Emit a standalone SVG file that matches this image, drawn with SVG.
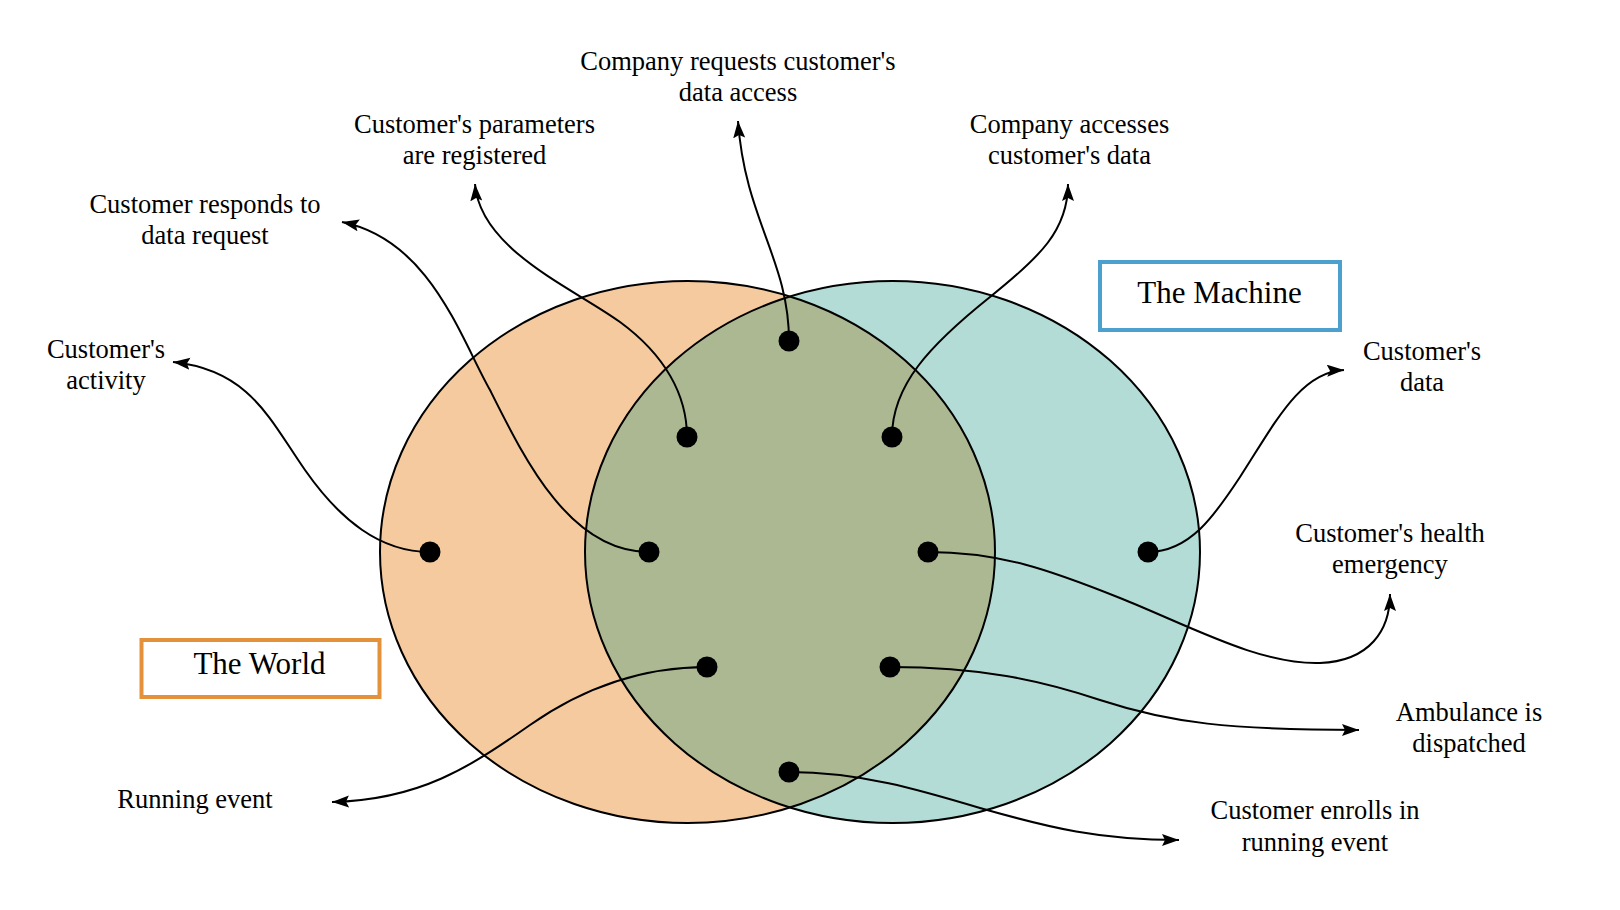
<svg xmlns="http://www.w3.org/2000/svg" width="1620" height="910" viewBox="0 0 1620 910">
<style>
.lbl{font-family:"Liberation Serif","Times New Roman",serif;font-size:26.5px;fill:#000;text-anchor:middle}
.ttl{font-family:"Liberation Serif","Times New Roman",serif;font-size:31px;fill:#000;text-anchor:middle}
.edge{fill:none;stroke:#000;stroke-width:2;marker-end:url(#arr)}
.dot{fill:#000}
.ring{fill:none;stroke:#000;stroke-width:2}
</style>
<defs>
<marker id="arr" markerUnits="userSpaceOnUse" markerWidth="20" markerHeight="14" refX="17" refY="6" orient="auto">
<path d="M0,0 L17,6 L0,12 L3,6 Z" fill="#000"/>
</marker>
<clipPath id="tealClip"><ellipse cx="892.5" cy="552" rx="307.5" ry="271"/></clipPath>
</defs>
<rect width="1620" height="910" fill="#fff"/>
<g id="world-set">
<ellipse cx="687.5" cy="552" rx="307.5" ry="271" fill="#F5CA9E"/>
</g>
<g id="machine-set">
<ellipse cx="892.5" cy="552" rx="307.5" ry="271" fill="#B3DCD6"/>
</g>
<g id="overlap">
<ellipse cx="687.5" cy="552" rx="307.5" ry="271" fill="#ABB892" clip-path="url(#tealClip)"/>
<ellipse class="ring" cx="687.5" cy="552" rx="307.5" ry="271"/>
<ellipse class="ring" cx="892.5" cy="552" rx="307.5" ry="271"/>
</g>
<g id="world-box">
<rect x="141.5" y="640" width="238" height="57" fill="#fff" stroke="#E3913A" stroke-width="4"/>
<text class="ttl" x="259.5" y="674">The World</text>
</g>
<g id="machine-box">
<rect x="1100" y="262" width="240" height="68" fill="#fff" stroke="#4BA0CE" stroke-width="4"/>
<text class="ttl" x="1219.5" y="303">The Machine</text>
</g>
<g id="connectors">
<path class="edge" d="M430,552 C380,552 340,520 305,470 C270,420 250,370 173,362"/>
<path class="edge" d="M649,552 C570,552 525,460 490,390 C460,337 430,240 342,222"/>
<path class="edge" d="M687,437 C687,395 665,355 620,322 C575,289 480,250 475,184"/>
<path class="edge" d="M789,341 C789,260 745,220 738,121"/>
<path class="edge" d="M892,437 C892,385 930,345 990,297 C1040,257 1068,230 1068,184"/>
<path class="edge" d="M1148,552 C1190,552 1215,515 1240,477 C1275,423 1300,372 1344,370"/>
<path class="edge" d="M928,552 C1000,552 1050,570 1120,598 C1190,626 1260,665 1320,663 C1370,661 1390,630 1390,594"/>
<path class="edge" d="M890,667 C980,667 1040,680 1100,700 C1170,723 1230,730 1359,730"/>
<path class="edge" d="M789,772 C860,772 920,790 980,808 C1050,828 1100,840 1179,840"/>
<path class="edge" d="M707,667 C640,667 580,690 530,725 C470,767 420,800 332,802"/>
</g>
<g id="n-activity">
<circle class="dot" cx="430" cy="552" r="10.5"/>
<text class="lbl" x="106" y="358">Customer's</text>
<text class="lbl" x="106" y="389">activity</text>
</g>
<g id="n-responds">
<circle class="dot" cx="649" cy="552" r="10.5"/>
<text class="lbl" x="205" y="213">Customer responds to</text>
<text class="lbl" x="205" y="244">data request</text>
</g>
<g id="n-parameters">
<circle class="dot" cx="687" cy="437" r="10.5"/>
<text class="lbl" x="474.5" y="133">Customer's parameters</text>
<text class="lbl" x="474.5" y="164">are registered</text>
</g>
<g id="n-requests">
<circle class="dot" cx="789" cy="341" r="10.5"/>
<text class="lbl" x="738" y="70">Company requests customer's</text>
<text class="lbl" x="738" y="101">data access</text>
</g>
<g id="n-accesses">
<circle class="dot" cx="892" cy="437" r="10.5"/>
<text class="lbl" x="1069.5" y="133">Company accesses</text>
<text class="lbl" x="1069.5" y="164">customer's data</text>
</g>
<g id="n-data">
<circle class="dot" cx="1148" cy="552" r="10.5"/>
<text class="lbl" x="1422" y="360">Customer's</text>
<text class="lbl" x="1422" y="391">data</text>
</g>
<g id="n-health">
<circle class="dot" cx="928" cy="552" r="10.5"/>
<text class="lbl" x="1390" y="542">Customer's health</text>
<text class="lbl" x="1390" y="573">emergency</text>
</g>
<g id="n-ambulance">
<circle class="dot" cx="890" cy="667" r="10.5"/>
<text class="lbl" x="1469" y="721">Ambulance is</text>
<text class="lbl" x="1469" y="752">dispatched</text>
</g>
<g id="n-enrolls">
<circle class="dot" cx="789" cy="772" r="10.5"/>
<text class="lbl" x="1315" y="819">Customer enrolls in</text>
<text class="lbl" x="1315" y="851">running event</text>
</g>
<g id="n-running">
<circle class="dot" cx="707" cy="667" r="10.5"/>
<text class="lbl" x="195" y="808">Running event</text>
</g>
</svg>
